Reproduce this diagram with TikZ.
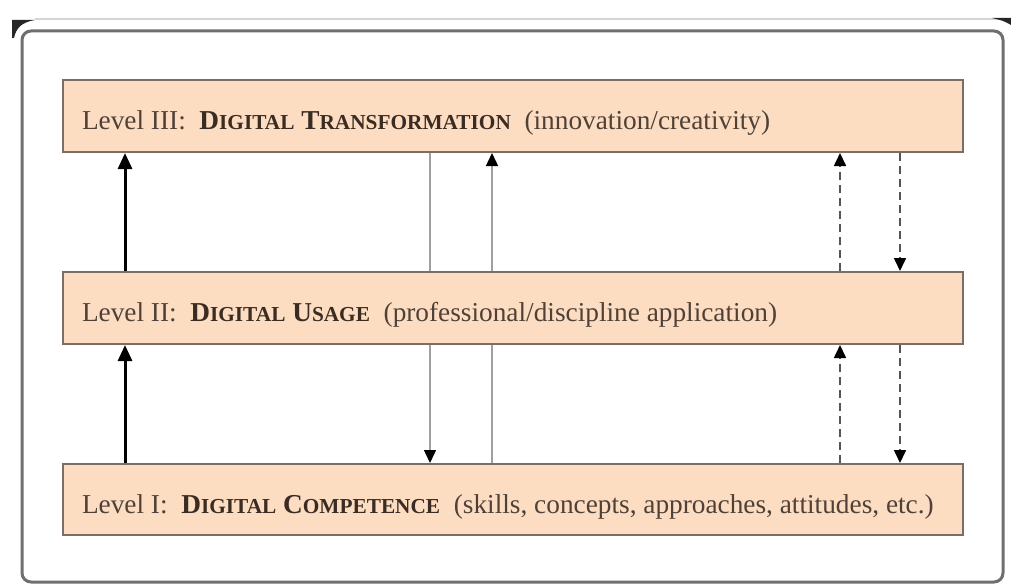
\documentclass[tikz,border=0pt]{standalone}
\usepackage{fontspec}
\setmainfont{Liberation Serif}
\usetikzlibrary{arrows.meta,backgrounds}

\definecolor{boxfill}{HTML}{FCDDC2}
\definecolor{boxedge}{HTML}{7B6E66}
\definecolor{inkc}{HTML}{4F4137}
\definecolor{inkb}{HTML}{3A2C22}
\definecolor{framec}{HTML}{6F6F6F}
\definecolor{shadowc}{HTML}{D4D4D4}
\definecolor{thinc}{HTML}{A0A0A0}
\definecolor{dashc}{HTML}{555555}

% bold small capitals built from two sizes of the bold face
\newcommand{\capword}[2]{{\fontsize{27.3}{30}\selectfont #1}{\fontsize{21.3}{24}\selectfont #2}}
\newcommand{\levelname}[1]{\textcolor{inkb}{\bfseries #1}}
\newcommand{\leveltext}[1]{\raisebox{-7pt}[\height][\depth]{\makebox[862pt][l]{#1}}}

\begin{document}
\begin{tikzpicture}[x=1pt,y=-1pt,
  levelbox/.style={draw=boxedge, line width=2pt, fill=boxfill,
    minimum width=900pt, minimum height=72pt, inner sep=0pt,
    text=inkc, font=\fontsize{27.3}{30}\selectfont},
  boldarrow/.style={line width=3pt, -{Triangle[width=14pt,length=16pt]}},
  thinarrow/.style={line width=1.4pt, draw=thinc,
    -{Triangle[width=12pt,length=13pt,color=black]}},
  dasharrow/.style={line width=1.6pt, draw=dashc, dash pattern=on 8pt off 5pt,
    -{Triangle[width=12pt,length=13pt,color=black]}}]

\useasboundingbox (0,0) rectangle (1011,586);

% page, outer frame with its light top edge and dark corners
\begin{pgfonlayer}{background}
  \fill[white] (0,0) rectangle (1011,586);
  \draw[shadowc, line width=2pt] (35,19) -- (1000,19);
  \draw[framec, line width=3pt, rounded corners=9pt] (22,31) rectangle (1003,582);
  \fill[black!85] (12,20) -- (35,20) .. controls (22,22) and (16,28) .. (14,38) -- (12,38) -- cycle;
  \fill[black!85] (992,18) -- (1011,18) -- (1011,25) .. controls (1004,21) .. (992,18) -- cycle;
\end{pgfonlayer}

% the three levels
\node[levelbox] (L3) at (513,116) {\leveltext{Level III:\ \ \levelname{\capword{D}{IGITAL} \capword{T}{RANSFORMATION}}\ \ (innovation/creativity)}};
\node[levelbox] (L2) at (513,308) {\leveltext{Level II:\ \ \levelname{\capword{D}{IGITAL} \capword{U}{SAGE}}\ \ (professional/discipline application)}};
\node[levelbox, minimum height=71pt] (L1) at (513,499.5) {\leveltext{Level I:\ \ \levelname{\capword{D}{IGITAL} \capword{C}{OMPETENCE}}\ \ (skills, concepts, approaches, attitudes, etc.)}};

% columns of the connectors
\coordinate (cA) at (125,0);
\coordinate (cB) at (430,0);
\coordinate (cC) at (492,0);
\coordinate (cD) at (840,0);
\coordinate (cE) at (900,0);

% long thin links run behind the middle level
\begin{pgfonlayer}{background}
  \draw[thinarrow] (L3.south -| cB) -- (L1.north -| cB);
  \draw[thinarrow] (L1.north -| cC) -- (L3.south -| cC);
\end{pgfonlayer}

\draw[boldarrow] (L2.north -| cA) -- (L3.south -| cA);
\draw[boldarrow] (L1.north -| cA) -- (L2.south -| cA);

\draw[dasharrow] (L2.north -| cD) -- (L3.south -| cD);
\draw[dasharrow] (L3.south -| cE) -- (L2.north -| cE);
\draw[dasharrow] (L1.north -| cD) -- (L2.south -| cD);
\draw[dasharrow] (L2.south -| cE) -- (L1.north -| cE);
\end{tikzpicture}
\end{document}
